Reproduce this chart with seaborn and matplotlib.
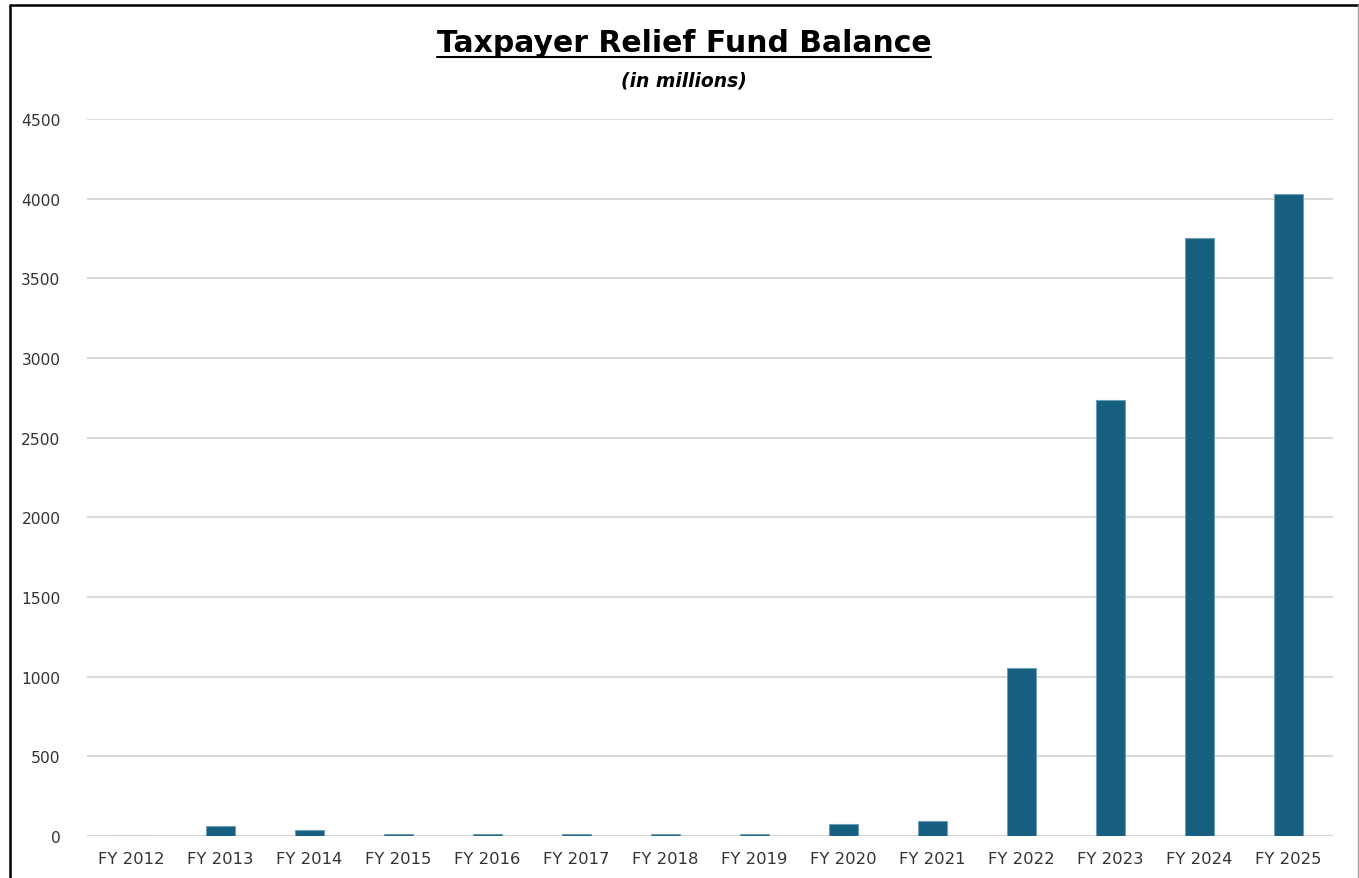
import matplotlib
matplotlib.use("Agg")
import matplotlib.pyplot as plt
from matplotlib.lines import Line2D
import seaborn as sns
import pandas as pd

# Fiscal years and fund balances (millions of dollars)
years = ["FY 2012", "FY 2013", "FY 2014", "FY 2015", "FY 2016", "FY 2017", "FY 2018",
         "FY 2019", "FY 2020", "FY 2021", "FY 2022", "FY 2023", "FY 2024", "FY 2025"]
balances = [0, 63, 38, 13, 13, 13, 13, 13, 75, 92, 1053, 2738, 3750, 4032]
y_ticks = [0, 500, 1000, 1500, 2000, 2500, 3000, 3500, 4000, 4500]

title_text = "Taxpayer Relief Fund Balance"
subtitle_text = "(in millions)"

df = pd.DataFrame({"year": years, "balance": balances})

sns.set_theme(style="white")
plt.rcParams["font.family"] = ["DejaVu Sans"]

W, H = 1359, 879
fig = plt.figure(figsize=(W / 100, H / 100), dpi=100)
fig.patch.set_facecolor("white")

left, right, top, bottom = 87, 1333, 120, 837
ax = fig.add_axes([left / W, 1 - bottom / H, (right - left) / W, (bottom - top) / H])

bar_color = "#175f80"
sns.barplot(data=df, x="year", y="balance", color=bar_color, width=0.315,
            edgecolor="#6f9fb6", linewidth=0.8, saturation=1, ax=ax, zorder=3)

ax.set_ylim(0, 4500)
ax.set_xlim(-0.5, len(years) - 0.5)
ax.set_yticks(y_ticks)
ax.set_yticklabels([str(t) for t in y_ticks])
ax.set_xlabel("")
ax.set_ylabel("")
ax.yaxis.grid(True, color="#d9d9d9", linewidth=1.5, zorder=0)
ax.set_axisbelow(True)
for s in ax.spines.values():
    s.set_visible(False)
ax.axhline(0, color="#d4d4d4", linewidth=2.0, zorder=2)

text_color = "#333333"
ax.tick_params(axis="y", length=0, pad=19, labelsize=11.2, labelcolor=text_color)
ax.tick_params(axis="x", length=0, pad=11, labelsize=11.8, labelcolor=text_color)

# Title with underline, and subtitle
title = fig.text(684 / W, 1 - 43 / H, title_text, ha="center", va="center",
                 fontsize=21.5, fontweight="bold", color="black")
fig.text(684 / W, 1 - 81 / H, subtitle_text, ha="center", va="center",
         fontsize=13.5, fontweight="bold", fontstyle="italic", color="black")

fig.canvas.draw()
bb = title.get_window_extent(renderer=fig.canvas.get_renderer())
uy = 1 - 57.5 / H
fig.add_artist(Line2D([bb.x0 / W, bb.x1 / W], [uy, uy], color="black", linewidth=1.5,
                      transform=fig.transFigure))

# Chart frame
fig.add_artist(Line2D([10 / W, 10 / W], [0, 1 - 5.5 / H], color="black", linewidth=1.8,
                      transform=fig.transFigure))
fig.add_artist(Line2D([10 / W, 1357.5 / W], [1 - 5.5 / H, 1 - 5.5 / H], color="black",
                      linewidth=1.8, transform=fig.transFigure))
fig.add_artist(Line2D([1357.5 / W, 1357.5 / W], [0, 1 - 5.5 / H], color="#a6a6a6",
                      linewidth=1.0, transform=fig.transFigure))

fig.savefig("out.png", dpi=100)
